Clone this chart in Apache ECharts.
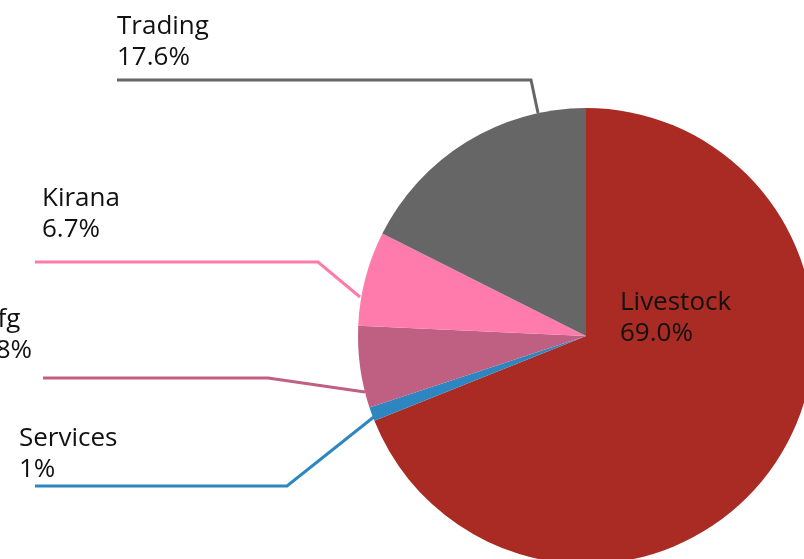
<!DOCTYPE html>
<html>
<head>
<meta charset="utf-8">
<script src="https://cdn.jsdelivr.net/npm/echarts@6/dist/echarts.min.js"></script>
<style>
  html, body { margin: 0; padding: 0; background: #fff; }
  #main { width: 804px; height: 559px; }
</style>
</head>
<body>
<div id="main"></div>
<script>
// data
const sectors = ['Livestock', 'Services', 'Mfg', 'Kirana', 'Trading'];
const shares = [69.0, 1, 5.8, 6.7, 17.6];
const shareLabels = ['69.0%', '1%', '5.8%', '6.7%', '17.6%'];
const sectorColors = ['#AA2B24', '#2E86C1', '#BF5F82', '#FF7BAC', '#666666'];

// label placement (text top-left + leader line points), by slice index
const labelPos = [
  { x: 620, y: 287 },
  { x: 19, y: 423, line: [[375, 416], [287, 486], [35, 486]] },
  { x: -26, y: 304, line: [[365, 392], [268, 378], [43, 378]] },
  { x: 42, y: 183, line: [[360, 297], [318, 262], [35, 262]] },
  { x: 117, y: 11, line: [[538, 113], [531, 80], [117, 80]] },
];

const chart = echarts.init(document.getElementById('main'));

const option = {
  animation: false,
  series: [
    {
      type: 'pie',
      center: [586, 336],
      radius: 228,
      startAngle: 90,
      clockwise: true,
      avoidLabelOverlap: false,
      itemStyle: { borderWidth: 0 },
      label: {
        show: true,
        fontFamily: 'Open Sans',
        fontSize: 26,
        lineHeight: 31,
        color: '#111',
        formatter: (p) => p.name + '\n' + shareLabels[p.dataIndex],
      },
      labelLine: {
        show: true,
        lineStyle: { width: 3 },
      },
      labelLayout: (params) => {
        const pos = labelPos[params.dataIndex];
        const out = { x: pos.x, y: pos.y, align: 'left', verticalAlign: 'top' };
        if (pos.line) out.labelLinePoints = pos.line;
        return out;
      },
      emphasis: { disabled: true },
      data: sectors.map((name, i) => ({
        name,
        value: shares[i],
        itemStyle: { color: sectorColors[i] },
        labelLine: { show: i !== 0 },
      })),
    },
  ],
};

chart.setOption(option);
</script>
</body>
</html>
